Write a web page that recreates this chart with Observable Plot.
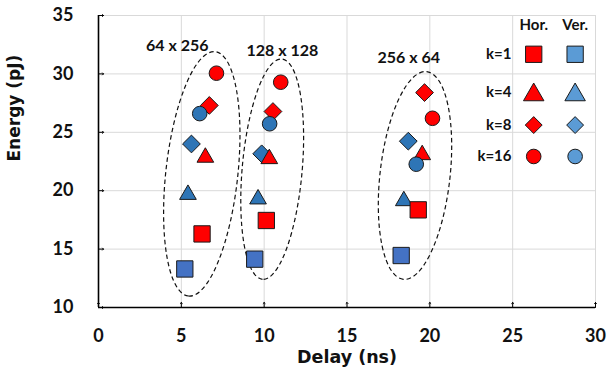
<!DOCTYPE html>
<html><head><meta charset="utf-8">
<script src="https://cdn.jsdelivr.net/npm/d3@7"></script>
<script src="https://cdn.jsdelivr.net/npm/@observablehq/plot@0.6"></script>
<style>body{margin:0;background:#fff}</style>
</head><body><div id="chart"></div>
<script>
// ---- data ----
const arrayNames = ["64 x 256", "128 x 128", "256 x 64"];
const kLabels = ["k=1", "k=4", "k=8", "k=16"];
const xTicks = [0, 5, 10, 15, 20, 25, 30];
const yTicks = [10, 15, 20, 25, 30, 35];

// values ordered k=1, k=4, k=8, k=16
const horDelay64 = [6.25, 6.45, 6.69, 7.12];
const horEnergy64 = [16.3, 22.85, 27.3, 30.06];
const verDelay64 = [5.21, 5.40, 5.61, 6.11];
const verEnergy64 = [13.3, 19.67, 24.0, 26.6];

const horDelay128 = [10.13, 10.31, 10.53, 11.0];
const horEnergy128 = [17.45, 22.73, 26.78, 29.29];
const verDelay128 = [9.43, 9.63, 9.85, 10.33];
const verEnergy128 = [14.14, 19.28, 23.16, 25.73];

const horDelay256 = [19.30, 19.54, 19.68, 20.16];
const horEnergy256 = [18.36, 23.07, 28.4, 26.2];
const verDelay256 = [18.27, 18.43, 18.70, 19.18];
const verEnergy256 = [14.45, 19.13, 24.24, 22.27];

// ---- annotations (ellipse outlines and their labels, in data units) ----
const ellipseTopX = [7.07, 11.10, 19.84];
const ellipseTopY = [31.86, 31.23, 30.15];
const ellipseBottomX = [5.46, 9.93, 18.43];
const ellipseBottomY = [10.94, 12.37, 12.37];
const ellipseLabelX = [4.76, 11.1, 18.73];
const ellipseLabelY = [32.43, 31.99, 31.37];

// ---- build table ----
const series = {
  hor: [[horDelay64, horEnergy64], [horDelay128, horEnergy128], [horDelay256, horEnergy256]],
  ver: [[verDelay64, verEnergy64], [verDelay128, verEnergy128], [verDelay256, verEnergy256]]
};
const rows = [];
for (const orient of ["hor", "ver"]) {
  series[orient].forEach(([dl, en], a) => {
    kLabels.forEach((k, i) => rows.push({array: arrayNames[a], orient, k, delay: dl[i], energy: en[i]}));
  });
}

const symbolOf = {"k=1": "square", "k=4": "triangle", "k=8": "diamond2", "k=16": "circle"};
const rOf = {"k=1": 9.2, "k=4": 6.2, "k=8": 8.0, "k=16": 7.3};
const legendR = {"k=1": 9.2, "k=4": 7.6, "k=8": 7.6, "k=16": 7.3};
const red = "#FF0000";
const blueData = {"k=1": "#4472C4", "k=4": "#2E75B6", "k=8": "#2E75B6", "k=16": "#2E75B6"};
const blueLegend = "#5B9BD5";

const drawOrder = [["ver","k=1"],["ver","k=4"],["ver","k=8"],["hor","k=1"],["hor","k=4"],["hor","k=8"],["ver","k=16"],["hor","k=16"]];

// legend placement (data units)
const legendHorX = 26.27, legendVerX = 28.77, legendLabelX = 24.93, legendHeaderY = 34.14;
const legendRowY = [31.68, 28.42, 25.62, 22.93];

const font = "Lato, 'Open Sans', sans-serif";
const titleFont = "'DejaVu Sans', sans-serif";

const ellipseMark = (index, {x, y}) => {
  const g = d3.create("svg:g").attr("fill", "none").attr("stroke", "#111")
    .attr("stroke-width", 1.2).attr("stroke-dasharray", "4.5,3");
  const minor = [36, 30, 35];
  ellipseTopX.forEach((_, i) => {
    const x1 = x(ellipseTopX[i]), y1 = y(ellipseTopY[i]);
    const x2 = x(ellipseBottomX[i]), y2 = y(ellipseBottomY[i]);
    const cx = (x1 + x2) / 2, cy = (y1 + y2) / 2;
    const a = Math.hypot(x2 - x1, y2 - y1) / 2;
    const ang = Math.atan2(y2 - y1, x2 - x1) * 180 / Math.PI;
    g.append("ellipse").attr("cx", cx).attr("cy", cy).attr("rx", a).attr("ry", minor[i])
      .attr("transform", `rotate(${ang} ${cx} ${cy})`);
  });
  return g.node();
};

const marks = [
  Plot.ruleX(xTicks.filter(d => d > 0), {stroke: "#d9d9d9", strokeWidth: 1}),
  Plot.ruleY(yTicks.filter(d => d > 10), {stroke: "#d9d9d9", strokeWidth: 1}),
  Plot.ruleX([0], {stroke: "#000", strokeWidth: 1.6}),
  Plot.ruleY([10], {stroke: "#000", strokeWidth: 1.6}),
  Plot.vector(xTicks, {x: d => d, y: 10, length: 5, rotate: 0, anchor: "start", stroke: "#000", strokeWidth: 1}),
  Plot.vector(yTicks, {x: 0, y: d => d, length: 5, rotate: 90, anchor: "start", stroke: "#000", strokeWidth: 1}),
  ellipseMark,
  Plot.text(arrayNames, {x: (d, i) => ellipseLabelX[i], y: (d, i) => ellipseLabelY[i], text: d => d,
    fontSize: 16, fontWeight: "bold", fill: "#111"}),
];

for (const [orient, k] of drawOrder) {
  marks.push(Plot.dot(rows.filter(d => d.orient === orient && d.k === k), {
    x: "delay", y: "energy", symbol: symbolOf[k], r: rOf[k],
    fill: orient === "hor" ? red : blueData[k], stroke: "#1a1a1a", strokeWidth: 1
  }));
}

// legend
marks.push(
  Plot.text(["Hor.", "Ver."], {x: (d, i) => i ? legendVerX : legendHorX, y: legendHeaderY, text: d => d,
    fontSize: 15, fontWeight: "bold", fill: "#111"}),
  Plot.text(kLabels, {x: legendLabelX, y: (d, i) => legendRowY[i], text: d => d, textAnchor: "end",
    fontSize: 15, fontWeight: "bold", fill: "#111"})
);
kLabels.forEach((k, i) => {
  const dy = k === "k=4" ? 2.5 : 0;
  marks.push(
    Plot.dot([k], {x: legendHorX, y: legendRowY[i], dy, symbol: symbolOf[k], r: legendR[k], fill: red, stroke: "#1a1a1a", strokeWidth: 1}),
    Plot.dot([k], {x: legendVerX, y: legendRowY[i], dy, symbol: symbolOf[k], r: legendR[k], fill: blueLegend, stroke: "#1a1a1a", strokeWidth: 1})
  );
});

// axis titles
marks.push(
  Plot.text(["Delay (ns)"], {frameAnchor: "bottom", dy: 55, text: d => d, fontSize: 17.5, fontWeight: "bold",
    fontFamily: titleFont, fill: "#111"}),
  Plot.text(["Energy (pJ)"], {frameAnchor: "left", dx: -84, rotate: -90, text: d => d, fontSize: 17, fontWeight: "bold",
    fontFamily: titleFont, fill: "#111"})
);

const chart = Plot.plot({
  width: 609,
  height: 380,
  marginLeft: 98,
  marginRight: 14,
  marginTop: 15,
  marginBottom: 73,
  style: {fontFamily: font, fontSize: "18px", fontWeight: "bold", color: "#111", background: "#fff"},
  x: {domain: [0, 30], ticks: xTicks, tickSize: 0, tickPadding: 22, label: null},
  y: {domain: [10, 35], ticks: yTicks, tickSize: 0, tickPadding: 25, label: null},
  marks
});
document.getElementById("chart").appendChild(chart);
</script>
</body></html>
